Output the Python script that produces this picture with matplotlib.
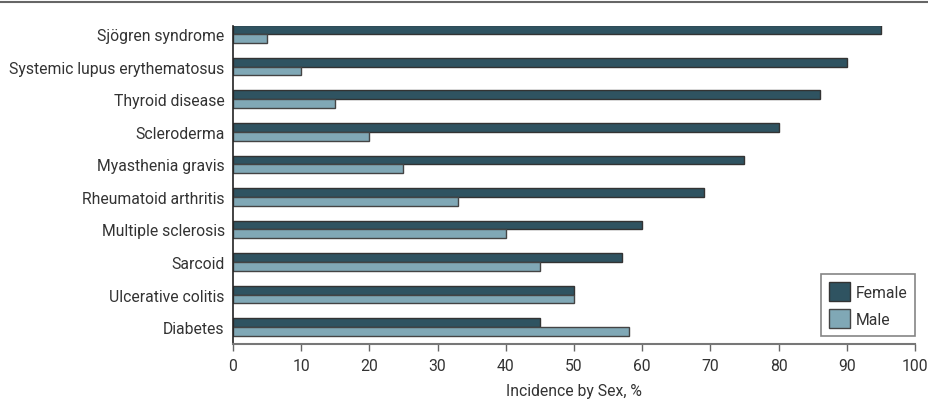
import matplotlib
matplotlib.use("Agg")
import matplotlib.pyplot as plt
from matplotlib.lines import Line2D
import numpy as np

plt.rcParams['font.family'] = ['Roboto', 'DejaVu Sans']

categories = ["Sjögren syndrome", "Systemic lupus erythematosus", "Thyroid disease",
              "Scleroderma", "Myasthenia gravis", "Rheumatoid arthritis",
              "Multiple sclerosis", "Sarcoid", "Ulcerative colitis", "Diabetes"]
female = [95, 90, 86, 80, 75, 69, 60, 57, 50, 45]
male = [5, 10, 15, 20, 25, 33, 40, 45, 50, 58]
xticks = [0, 10, 20, 30, 40, 50, 60, 70, 80, 90, 100]

fig = plt.figure(figsize=(9.29, 4.14), dpi=100)
ax = fig.add_axes([233/929, 1-345/414, (915-233)/929, (345-27)/414])

y = np.arange(len(categories))
h = 0.27
c_f = '#2f5361'
c_m = '#80a8b6'
ax.barh(y - h/2, female, height=h, color=c_f, edgecolor='#333333', linewidth=1.0, label='Female')
ax.barh(y + h/2, male, height=h, color=c_m, edgecolor='#444444', linewidth=1.0, label='Male')

ax.set_ylim(len(categories) - 1 + 0.52, -0.25)
ax.set_xlim(0, 100)
ax.set_yticks(y)
ax.set_yticklabels(categories)
ax.set_xticks(xticks)
fs = 11.3
ax.tick_params(axis='y', length=0, pad=6, labelsize=fs, labelcolor='#333333')
ax.tick_params(axis='x', length=5, width=1, color='#666666', labelsize=fs, labelcolor='#333333', pad=5)
for s in ['top', 'right']:
    ax.spines[s].set_visible(False)
ax.spines['left'].set_color('#222222')
ax.spines['bottom'].set_color('#777777')
ax.spines['left'].set_linewidth(1.2)
ax.spines['bottom'].set_linewidth(1.5)
ax.set_xlabel('Incidence by Sex, %', fontsize=fs, color='#333333', labelpad=7)

leg = ax.legend(loc='lower right', bbox_to_anchor=(1.0, 8/318), borderaxespad=0,
                frameon=True, fancybox=False,
                fontsize=fs, handlelength=1.35, handleheight=1.5, borderpad=0.5,
                labelspacing=0.5, handletextpad=0.35)
leg.get_frame().set_edgecolor('#666666')
leg.get_frame().set_linewidth(1.2)
for t in leg.get_texts():
    t.set_color('#333333')

fig.add_artist(Line2D([0, 1], [1 - 3/414, 1 - 3/414], transform=fig.transFigure,
                      color='#666666', linewidth=1.5))

fig.savefig('out.png', dpi=100)
